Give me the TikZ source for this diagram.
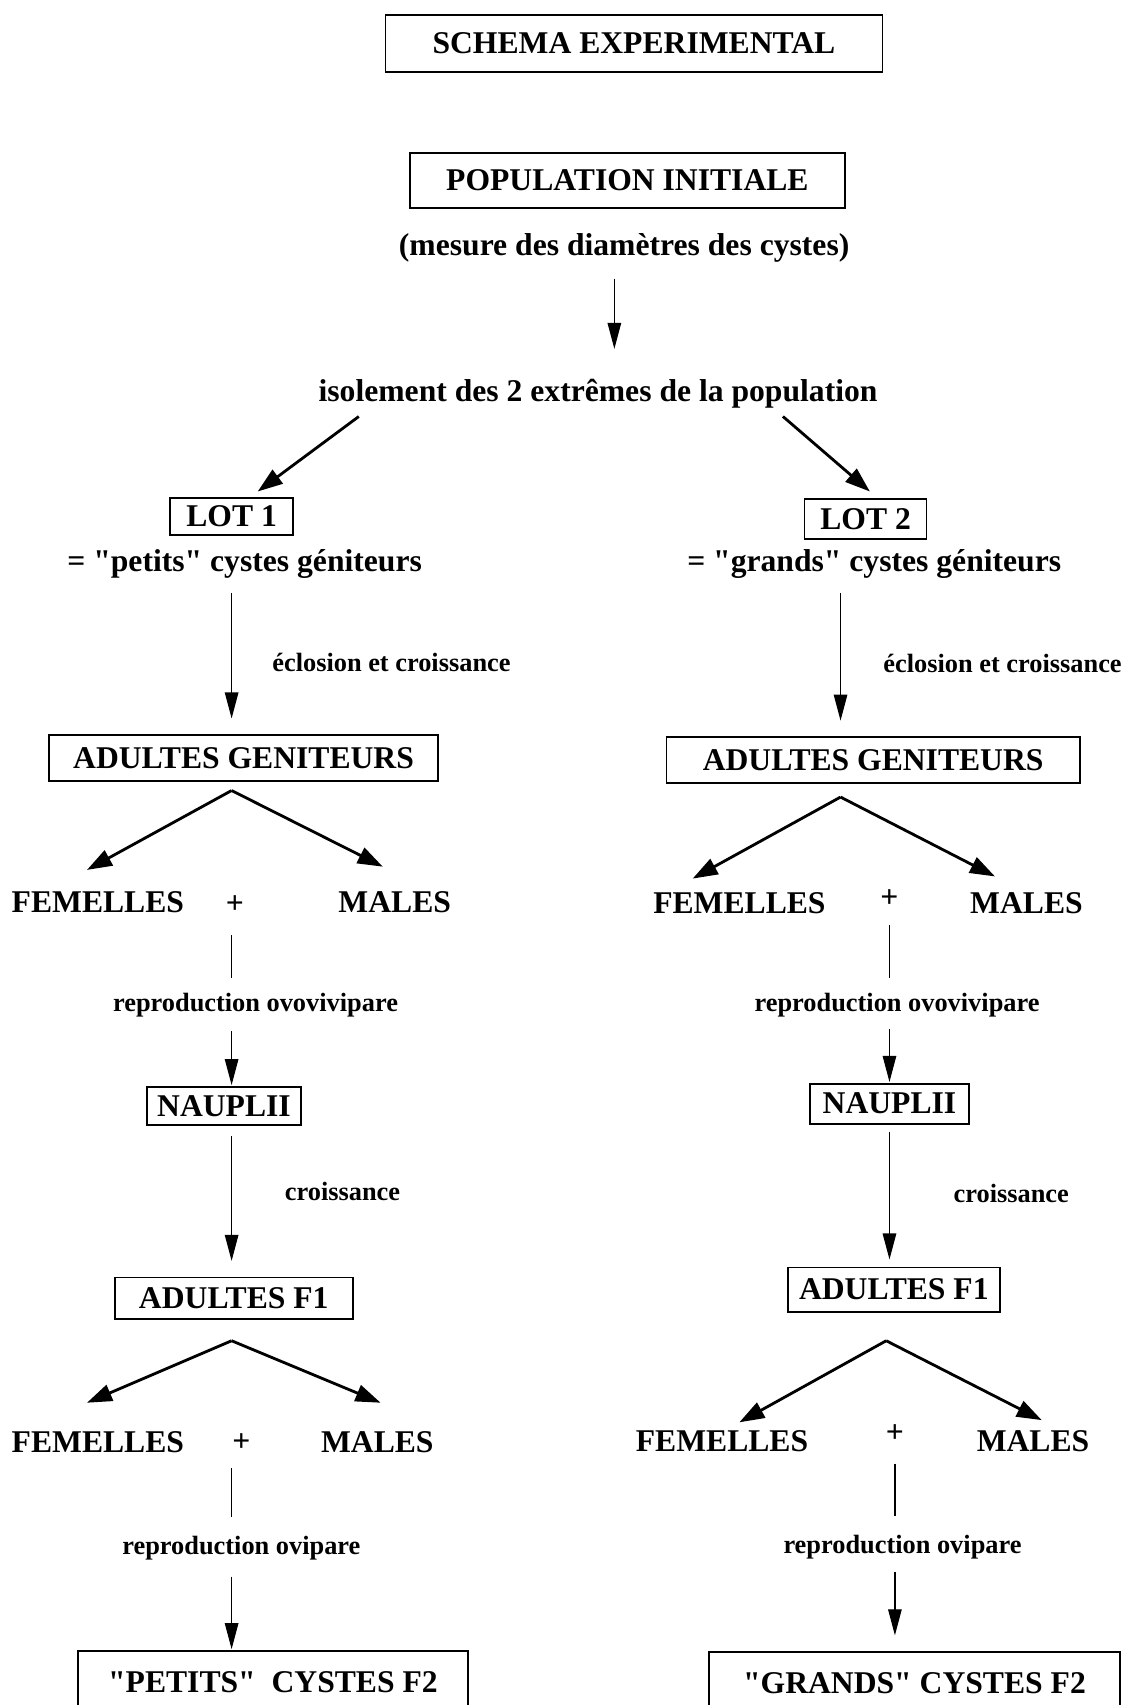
\documentclass[tikz,border=0pt]{standalone}
\usepackage{fontspec}
\setmainfont{Liberation Serif}[Ligatures=TeXOff]
\usetikzlibrary{arrows.meta,positioning}

\begin{document}
\begin{tikzpicture}[x=0.02175cm, y=-0.02175cm,
    box/.style={rectangle, draw, line width=1pt, inner sep=0pt, font=\fontsize{18}{20}\selectfont\bfseries},
    txt/.style={inner sep=2pt, font=\fontsize{18}{20}\selectfont\bfseries},
    lbl/.style={inner sep=2pt, font=\fontsize{15}{17}\selectfont\bfseries},
    arr/.style={-{Triangle[length=5.2mm,width=2.7mm]}, line width=0.7pt},
    fork/.style={-{Triangle[length=5mm,width=3.4mm]}, line width=1.6pt},
    link/.style={line width=0.7pt}]
    \useasboundingbox (0,0) rectangle (1040,1568);

    % Title and start
    \node[box, minimum width=9.94cm, minimum height=1.13cm] (schema) at (583,40) {SCHEMA EXPERIMENTAL};
    \node[box, minimum width=8.70cm, minimum height=1.09cm] (popinit) at (577,166) {POPULATION INITIALE};
    \node[txt] (mesure) at (574,228) {(mesure des diamètres des cystes)};
    \node[txt] (isol) at (550,362) {isolement des 2 extrêmes de la population};

    % Two lots
    \node[box, minimum width=2.46cm, minimum height=0.74cm] (lot1) at (213,475) {LOT 1};
    \node[txt] (petits) at (225,519) {= "petits" cystes géniteurs};
    \node[box, minimum width=2.44cm, minimum height=0.80cm] (lot2) at (796,477) {LOT 2};
    \node[txt] (grands) at (804,519) {= "grands" cystes géniteurs};

    % Adult parents
    \node[lbl] (eclo1) at (360,609) {éclosion et croissance};
    \node[lbl] (eclo2) at (922,610) {éclosion et croissance};
    \node[box, minimum width=7.79cm, minimum height=0.91cm] (adg1) at (224,697) {ADULTES GENITEURS};
    \node[box, minimum width=8.27cm, minimum height=0.91cm] (adg2) at (803,699) {ADULTES GENITEURS};

    \node[txt] (fem1) at (90,830) {FEMELLES};
    \node[txt] (plus1) at (216,832) {+};
    \node[txt] (male1) at (363,830) {MALES};
    \node[txt] (fem2) at (680,831) {FEMELLES};
    \node[txt] (plus2) at (818,826) {+};
    \node[txt] (male2) at (944,831) {MALES};

    % Nauplii and F1
    \node[lbl] (repro1) at (235,924) {reproduction ovovivipare};
    \node[lbl] (repro2) at (825,924) {reproduction ovovivipare};
    \node[box, minimum width=3.07cm, minimum height=0.76cm] (naup1) at (206,1017) {NAUPLII};
    \node[box, minimum width=3.18cm, minimum height=0.80cm] (naup2) at (818,1015) {NAUPLII};
    \node[lbl] (crois1) at (315,1096) {croissance};
    \node[lbl] (crois2) at (930,1098) {croissance};
    \node[box, minimum width=4.76cm, minimum height=0.83cm] (fone1) at (215,1194) {ADULTES F1};
    \node[box, minimum width=4.24cm, minimum height=0.89cm] (fone2) at (822,1186) {ADULTES F1};

    \node[txt] (fem3) at (90,1326) {FEMELLES};
    \node[txt] (plus3) at (222,1327) {+};
    \node[txt] (male3) at (347,1326) {MALES};
    \node[txt] (fem4) at (664,1325) {FEMELLES};
    \node[txt] (plus4) at (823,1318) {+};
    \node[txt] (male4) at (950,1325) {MALES};

    % F2 cysts
    \node[lbl] (ovi1) at (222,1424) {reproduction ovipare};
    \node[lbl] (ovi2) at (830,1423) {reproduction ovipare};
    \node[box, minimum width=7.79cm, minimum height=1.25cm] (cyst1) at (251,1547) {"PETITS"\ \ CYSTES F2};
    \node[box, minimum width=8.22cm, minimum height=1.25cm] (cyst2) at (841,1548) {"GRANDS" CYSTES F2};

    % Fork points
    \coordinate (top1) at (213,727);
    \coordinate (top2) at (773,733);
    \coordinate (top3) at (213,1233);
    \coordinate (top4) at (815,1233);
    \coordinate (sl) at (330,383);
    \coordinate (sr) at (720,383);

    % Arrows
    \draw[arr, shorten <=7pt, shorten >=15pt] (mesure.south -| 565,0) -- (565,0 |- isol.north);
    \draw[fork] (sl) -- (237,452);
    \draw[fork] (sr) -- (800,452);

    \draw[arr, shorten <=6pt, shorten >=9pt] (petits.south -| lot1) -- (lot1 |- adg1.north);
    \draw[arr, shorten <=6pt, shorten >=9pt] (grands.south -| top2) -- (top2 |- adg2.north);

    \draw[fork] (top1) -- (80,800);
    \draw[fork] (top1) -- (352,797);
    \draw[fork] (top2) -- (637,808);
    \draw[fork] (top2) -- (915,806);

    \draw[link, shorten <=10pt, shorten >=6pt] (plus1.south -| lot1) -- (lot1 |- repro1.north);
    \draw[arr, shorten <=6pt, shorten >=0.5pt] (repro1.south -| lot1) -- (lot1 |- naup1.north);
    \draw[link, shorten <=8pt, shorten >=6pt] (plus2) -- (plus2 |- repro2.north);
    \draw[arr, shorten <=5pt, shorten >=0.5pt] (repro2.south -| plus2) -- (plus2 |- naup2.north);

    \draw[arr, shorten <=6pt, shorten >=9pt] (naup1.south -| lot1) -- (lot1 |- fone1.north);
    \draw[arr, shorten <=4pt, shorten >=4pt] (naup2.south -| plus2) -- (plus2 |- fone2.north);

    \draw[fork] (top3) -- (80,1290);
    \draw[fork] (top3) -- (350,1290);
    \draw[fork] (top4) -- (680,1308);
    \draw[fork] (top4) -- (958,1306);

    \draw[link, shorten <=7pt, shorten >=9pt] (plus3.south -| lot1) -- (lot1 |- ovi1.north);
    \draw[arr, shorten <=7pt, shorten >=0.5pt] (ovi1.south -| lot1) -- (lot1 |- cyst1.north);
    \draw[link, shorten <=10pt, shorten >=9pt] (plus4) -- (plus4 |- ovi2.north);
    \draw[arr, shorten <=5pt, shorten >=9pt] (ovi2.south -| plus4) -- (plus4 |- cyst2.north);

\end{tikzpicture}
\end{document}
